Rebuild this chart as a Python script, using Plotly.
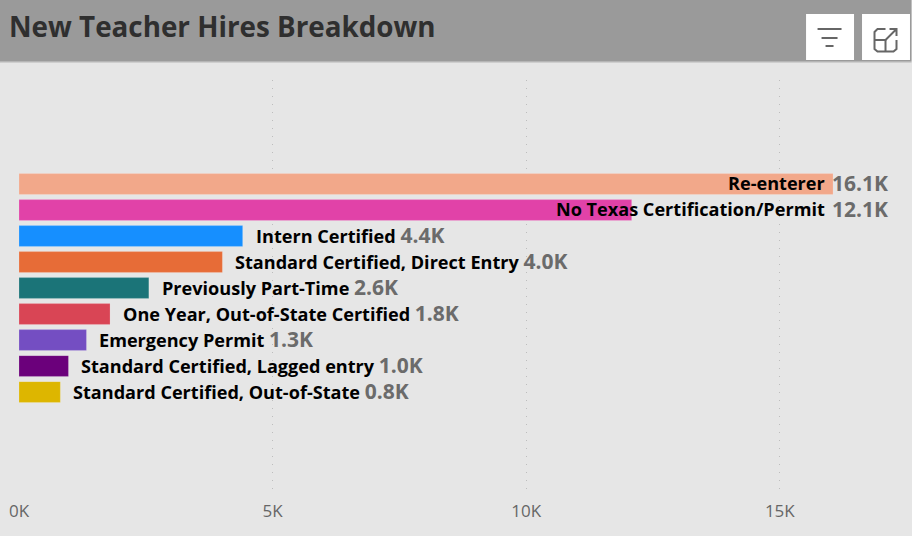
import plotly.graph_objects as go

categories = ["Re-enterer", "No Texas Certification/Permit", "Intern Certified",
              "Standard Certified, Direct Entry", "Previously Part-Time",
              "One Year, Out-of-State Certified", "Emergency Permit",
              "Standard Certified, Lagged entry", "Standard Certified, Out-of-State"]
values = [16050, 12080, 4410, 4010, 2560, 1795, 1330, 975, 815]
value_labels = ["16.1K", "12.1K", "4.4K", "4.0K", "2.6K", "1.8K", "1.3K", "1.0K", "0.8K"]
bar_colors = ["#F2A88A", "#E142A8", "#168FFF", "#E76C37", "#1B7478", "#D94555",
              "#744EC2", "#6B007B", "#DDB600"]
tick_values = [0, 5000, 10000, 15000]
tick_labels = ["0K", "5K", "10K", "15K"]
title_text = "New Teacher Hires Breakdown"

W, H = 912, 536
FONT = "Open Sans"
GRAY = "#6b6b6b"
L, R, T, B = 19, 12.5, 80, 41
PW, PH = W - L - R, H - T - B


def px(x):
    return (x - L) / PW


def py(y):
    return (H - B - y) / PH


def path(cmds):
    out = []
    for c in cmds:
        out.append(f"{c[0]}{px(c[1]):.5f},{py(c[2]):.5f}")
    return " ".join(out)


fig = go.Figure(go.Bar(
    x=values, y=categories, orientation="h", width=0.8,
    marker=dict(color=bar_colors, line=dict(color="rgba(255,255,255,0.18)", width=1)),
    hoverinfo="x+y",
))

annotations = []
for i, (c, v, lab) in enumerate(zip(categories, values, value_labels)):
    val_span = f'<span style="color:{GRAY};font-size:21px"><b>{lab}</b></span>'
    if i < 2:
        annotations.append(dict(x=values[0], y=c, xref="x", yref="y", text=f"<b>{c}</b>",
                                xanchor="right", xshift=-6, yshift=1, showarrow=False,
                                font=dict(family=FONT, size=18.1, color="black")))
        annotations.append(dict(x=values[0], y=c, xref="x", yref="y",
                                text=val_span, xanchor="left", xshift=-3, yshift=1,
                                showarrow=False, font=dict(family=FONT, size=18.1, color=GRAY)))
    else:
        annotations.append(dict(x=v, y=c, xref="x", yref="y",
                                text=f"<b>{c}</b> {val_span}", xanchor="left", xshift=11, yshift=1,
                                showarrow=False, font=dict(family=FONT, size=18.1, color="black")))

annotations.append(dict(x=px(7), y=py(26), xref="paper", yref="paper", text=f"<b>{title_text}</b>",
                        xanchor="left", yanchor="middle", showarrow=False,
                        font=dict(family=FONT, size=27.8, color="#2f2f2f")))

ICON = dict(color="#666666", width=2)
shapes = [
    dict(type="rect", xref="paper", yref="paper", layer="below", x0=px(0), x1=px(W), y0=py(61), y1=py(0),
         fillcolor="#9a9a9a", line_width=0),
    dict(type="rect", xref="paper", yref="paper", layer="below", x0=px(0), x1=px(W), y0=py(62.5), y1=py(61),
         fillcolor="#b5b5b5", line_width=0),
    dict(type="rect", xref="paper", yref="paper", x0=px(806.5), x1=px(854.5), y0=py(60), y1=py(14),
         fillcolor="white", line_width=0),
    dict(type="rect", xref="paper", yref="paper", x0=px(862.5), x1=px(910.5), y0=py(60), y1=py(14),
         fillcolor="white", line_width=0),
]
for a, b, y in [(818, 842, 29), (822, 838, 38), (826, 834, 46)]:
    shapes.append(dict(type="line", xref="paper", yref="paper", x0=px(a), x1=px(b), y0=py(y), y1=py(y), line=ICON))
expand = [
    ("M", 886, 29), ("L", 878, 29), ("L", 875, 32), ("L", 875, 49), ("L", 878, 51.5),
    ("L", 894, 51.5), ("L", 897, 49), ("L", 897, 40),
]
shapes.append(dict(type="path", xref="paper", yref="paper", path=path(expand), line=ICON))
shapes.append(dict(type="path", xref="paper", yref="paper",
                   path=path([("M", 875, 40), ("L", 886, 40), ("L", 886, 51.5)]), line=ICON))
shapes.append(dict(type="path", xref="paper", yref="paper",
                   path=path([("M", 886, 40), ("L", 897, 29), ("M", 890, 29), ("L", 897, 29), ("L", 897, 36)]), line=ICON))

fig.update_layout(
    width=W, height=H, autosize=False,
    margin=dict(l=L, r=R, t=T, b=B, pad=0, autoexpand=False),
    paper_bgcolor="#e6e6e6", plot_bgcolor="rgba(0,0,0,0)",
    showlegend=False, shapes=shapes, annotations=annotations,
    xaxis=dict(range=[0, 17350], tickmode="array", tickvals=tick_values, ticktext=tick_labels,
               automargin=False,
               showgrid=True, gridcolor="#bdbdbd", griddash="1px,7px", gridwidth=1,
               zeroline=False, showline=False, ticks="outside", ticklen=1, tickcolor="rgba(0,0,0,0)",
               tickfont=dict(family=FONT, size=17, color="#666666")),
    yaxis=dict(categoryorder="array", categoryarray=categories, range=[11.96, -4.0], automargin=False,
               showticklabels=False, showgrid=False, zeroline=False, showline=False, ticks=""),
)

fig.write_html("out.html", config={"displayModeBar": False}, post_script="document.body.style.margin='0';")
